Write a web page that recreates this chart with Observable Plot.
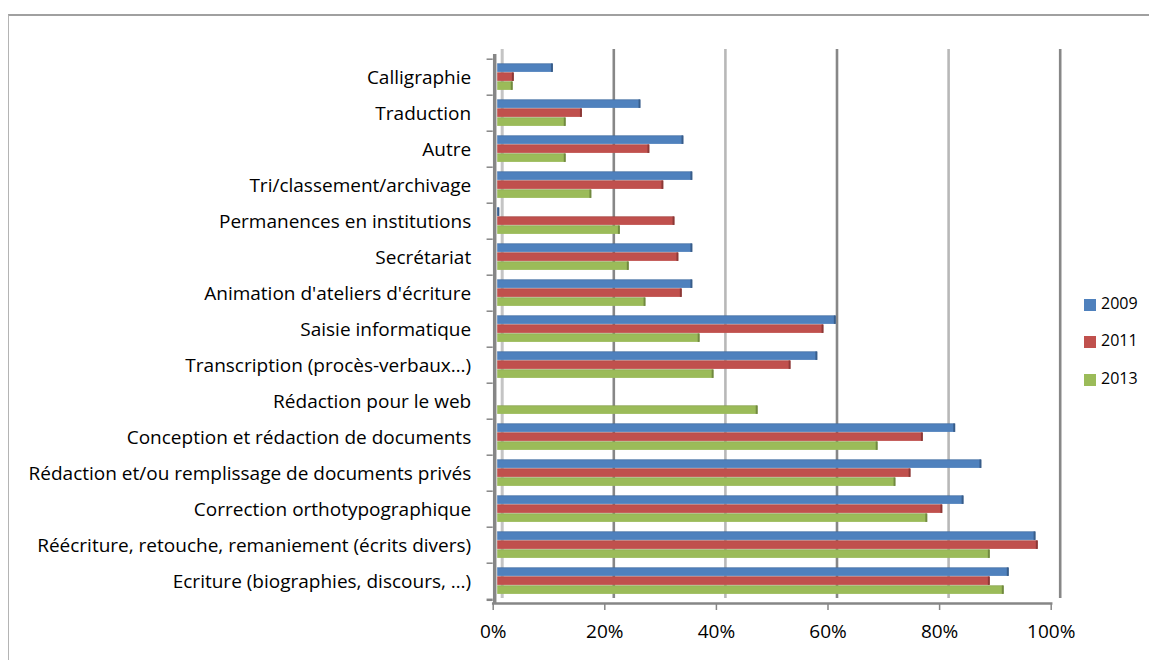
<!DOCTYPE html>
<html>
<head>
<meta charset="utf-8">
<script src="https://cdn.jsdelivr.net/npm/d3@7"></script>
<script src="https://cdn.jsdelivr.net/npm/@observablehq/plot@0.6"></script>
<style>
  html, body { margin: 0; padding: 0; background: #fff; }
  #wrap { position: relative; width: 1149px; height: 660px; overflow: hidden; font-family: "Open Sans", sans-serif; }
  #frame { position: absolute; left: 8px; top: 14px; width: 1300px; height: 800px; border-top: 2px solid #a0a0a0; border-left: 1px solid #b4b4b4; }
  #chart { position: absolute; left: 0; top: 0; }
  .leg { position: absolute; left: 1084px; font-size: 16px; color: #000; line-height: 12px; }
  .leg span.sw { position: absolute; left: 0; top: 0; width: 12px; height: 12px; }
  .leg span.tx { position: absolute; left: 17px; top: -2px; white-space: nowrap; }
</style>
</head>
<body>
<div id="wrap">
  <div id="frame"></div>
  <div id="chart"></div>
  <div id="legend"></div>
</div>
<script>
// ---- data (top to bottom) ----
const categories = [
  "Calligraphie",
  "Traduction",
  "Autre",
  "Tri/classement/archivage",
  "Permanences en institutions",
  "Secrétariat",
  "Animation d'ateliers d'écriture",
  "Saisie informatique",
  "Transcription (procès-verbaux…)",
  "Rédaction pour le web",
  "Conception et rédaction de documents",
  "Rédaction et/ou remplissage de documents privés",
  "Correction orthotypographique",
  "Réécriture, retouche, remaniement (écrits divers)",
  "Ecriture (biographies, discours, …)"
];
const years = ["2009", "2011", "2013"];
const v2009 = [9.9, 25.6, 33.3, 34.9, 0.3, 34.9, 34.9, 60.6, 57.3, null, 82.0, 86.7, 83.5, 96.4, 91.6];
const v2011 = [2.9, 15.1, 27.2, 29.7, 31.7, 32.4, 33.0, 58.4, 52.5, null, 76.2, 74.0, 79.7, 96.8, 88.2];
const v2013 = [2.7, 12.2, 12.2, 16.8, 21.9, 23.5, 26.5, 36.2, 38.7, 46.6, 68.1, 71.3, 77.0, 88.2, 90.7];
const xTicks = [0, 20, 40, 60, 80, 100];
const colors = ["#4F81BD", "#C0504D", "#9BBB59"];
const darkColors = ["#385D8A", "#8C3836", "#71893F"];

// ---- layout ----
const W = 1149, H = 660;
const mL = 492.7, mR = W - 1050.7, mT = 54, mB = H - 603;
const step = (H - mT - mB) / categories.length;
const barH = 9, topOff = 4.5;

const series = [v2009, v2011, v2013];
const rowsBy = series.map((vals, k) =>
  categories.map((c, i) => ({cat: c, year: years[k], v: vals[i]})).filter(d => d.v != null)
);

const marks = [];
// back wall left line and gridlines (3D back plane)
marks.push(Plot.ruleX([0], {dx: 9, dy: -5, stroke: "#c4c4c4", strokeWidth: 3}));
marks.push(Plot.ruleX(xTicks.slice(1), {dx: 9, dy: -5, stroke: d => (d === 40 || d === 80) ? "#b8b8b8" : "#878787", strokeWidth: 2.6}));

// bars
rowsBy.forEach((rows, k) => {
  const it = topOff + k * barH;
  const ib = step - it - barH;
  marks.push(Plot.barX(rows, {x: "v", y: "cat", insetTop: it, insetBottom: ib, fill: colors[k], dx: 4.5}));
  // darker top edge
  marks.push(Plot.barX(rows, {x: "v", y: "cat", insetTop: it, insetBottom: step - it - 1.2, fill: darkColors[k], fillOpacity: 0.6, dx: 4.5}));
  // end cap
  marks.push(Plot.tickX(rows, {x: "v", y: "cat", insetTop: it, insetBottom: ib, stroke: darkColors[k], strokeWidth: 2, dx: 3.5}));
});

// y axis line
marks.push(Plot.ruleX([0], {stroke: "#868686", strokeWidth: 3.5, dx: 1.5}));
// category boundary ticks
marks.push(Plot.ruleY(categories, {y: d => d, x1: -1.1, x2: 0, dy: -step / 2, stroke: "#868686", strokeWidth: 1.5}));
marks.push(Plot.ruleY([categories[categories.length - 1]], {y: d => d, x1: -1.1, x2: 0, dy: step / 2, stroke: "#868686", strokeWidth: 2.5}));
// x axis line
marks.push(Plot.frame({anchor: "bottom", stroke: "#868686", strokeWidth: 2.5}));
// axes
marks.push(Plot.axisX({ticks: xTicks, tickSize: 7, tickPadding: 14, stroke: "#868686", strokeWidth: 1.5, tickFormat: d => d + "%", fontSize: 19, fill: "#000", label: null}));
marks.push(Plot.axisY({tickSize: 0, tickPadding: 22, fontSize: 19, fill: "#000", label: null}));

const chart = Plot.plot({
  width: W,
  height: H,
  marginLeft: mL,
  marginRight: mR,
  marginTop: mT,
  marginBottom: mB,
  style: {fontFamily: "'Open Sans', sans-serif", background: "transparent", color: "#000", overflow: "visible"},
  x: {domain: [0, 100], label: null},
  y: {domain: categories, padding: 0, label: null},
  marks
});
document.getElementById("chart").appendChild(chart);

// legend
const legend = document.getElementById("legend");
years.forEach((y, k) => {
  const d = document.createElement("div");
  d.className = "leg";
  d.style.top = (299 + k * 37.3) + "px";
  d.innerHTML = `<span class="sw" style="background:${colors[k]}"></span><span class="tx">${y}</span>`;
  legend.appendChild(d);
});
</script>
</body>
</html>
